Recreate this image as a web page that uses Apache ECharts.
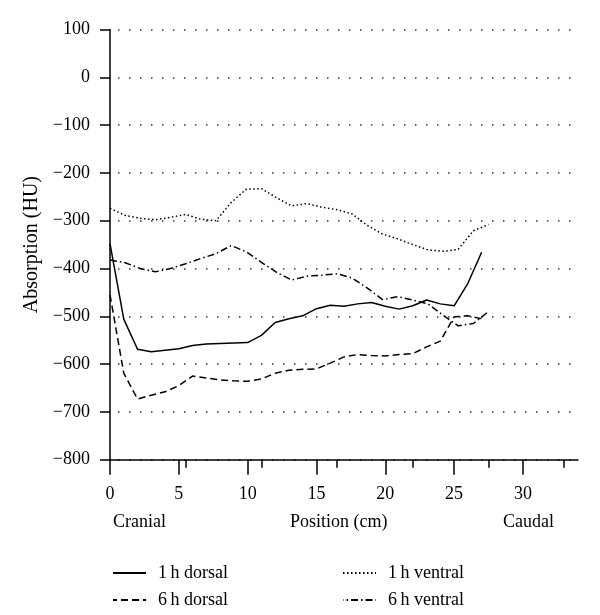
<!DOCTYPE html>
<html><head><meta charset="utf-8">
<script src="https://cdn.jsdelivr.net/npm/echarts@6/dist/echarts.min.js"></script>
<style>html,body{margin:0;padding:0;background:#fff}#c{width:600px;height:615px}</style>
</head><body><div id="c"></div>
<script>
const dorsalPos = [0,1,2,3,4,5,6,7,8,9,10,11,12,13,14,15,16,17,18,19,20,21,22,23,24,25,26,27];
const ventralPos = [0,1.1,2.2,3.3,4.4,5.5,6.6,7.7,8.8,9.9,11,12.1,13.2,14.3,15.4,16.5,17.6,18.7,19.8,20.9,22,23.1,24.2,25.3,26.4,27.5];
const dorsal1h = [-348,-506,-569,-574,-571,-568,-561,-558,-557,-556,-555,-540,-513,-505,-499,-484,-477,-479,-474,-471,-479,-485,-478,-466,-474,-478,-431,-366];
const dorsal6h = [-455,-619,-673,-665,-658,-645,-625,-629,-633,-635,-636,-631,-619,-613,-611,-610,-598,-585,-580,-582,-583,-580,-578,-564,-552,-501,-499,-505];
const ventral1h = [-274,-289,-295,-298,-293,-287,-297,-300,-262,-234,-233,-252,-269,-264,-272,-277,-286,-310,-328,-338,-350,-361,-364,-360,-321,-308];
const ventral6h = [-382,-388,-400,-407,-400,-390,-379,-369,-352,-365,-387,-408,-424,-416,-414,-411,-420,-441,-465,-459,-466,-474,-498,-520,-515,-490];
const xMajorTicks = [0,5,10,15,20,25,30];
const xMinorTicks = [0,5.5,11,16.5,22,27.5,33];
const seriesNames = ['1\u2009h dorsal','6\u2009h dorsal','1\u2009h ventral','6\u2009h ventral'];
const bottomLabels = ['Cranial','Position (cm)','Caudal'];

const FONT = "'Liberation Serif', 'DejaVu Serif', serif";
const zip = (xs, ys) => xs.map((x, i) => [x, ys[i]]);
const mk = (name, data, type, w) => ({
  name, type: 'line', data, symbol: 'none', showSymbol: false, animation: false,
  lineStyle: { color: '#000', width: w || 1.5, type: type },
  itemStyle: { color: '#000' }
});

const chart = echarts.init(document.getElementById('c'));
const legendText = { fontFamily: FONT, fontSize: 18, color: '#000', padding: [0,0,0,7] };
const leg = (name, left, top) => ({
  left, top, padding: 0, orient: 'horizontal', itemWidth: 33, itemHeight: 18,
  data: [name], textStyle: legendText, selectedMode: false,
  itemStyle: { color: 'rgba(0,0,0,0)', borderWidth: 0, opacity: 0 }
});
chart.setOption({
  backgroundColor: '#fff',
  animation: false,
  grid: { left: 110, right: 22, top: 29.5, bottom: 155.3, containLabel: false },
  xAxis: [{
    type: 'value', min: 0, max: 34, position: 'bottom',
    axisLine: { show: true, onZero: false, lineStyle: { color: '#000', width: 1.5 } },
    axisTick: { show: true, customValues: xMajorTicks, length: 15, lineStyle: { color: '#000', width: 1.5 } },
    axisLabel: { customValues: xMajorTicks, margin: 26, fontFamily: FONT, fontSize: 18, color: '#000' },
    splitLine: { show: false }
  }, {
    type: 'value', min: 0, max: 34, position: 'bottom', offset: 0,
    axisLine: { show: false, onZero: false },
    axisTick: { show: true, customValues: xMinorTicks, length: 8, lineStyle: { color: '#000', width: 1.5 } },
    axisLabel: { show: false },
    splitLine: { show: false }
  }],
  yAxis: {
    type: 'value', min: -800, max: 100, interval: 100,
    name: 'Absorption (HU)', nameLocation: 'middle', nameGap: 67, nameRotate: 90,
    nameTextStyle: { fontFamily: FONT, fontSize: 20, color: '#000' },
    axisLine: { show: true, onZero: false, lineStyle: { color: '#000', width: 1.5 } },
    axisTick: { show: true, length: 10, lineStyle: { color: '#000', width: 1.5 } },
    axisLabel: { margin: 20, fontFamily: FONT, fontSize: 18, color: '#000',
      formatter: v => String(v).replace('-', '\u2212') },
    splitLine: { show: true, lineStyle: { type: [1.5, 9.5], color: '#333', width: 1.5, dashOffset: -8 } }
  },
  legend: [
    leg(seriesNames[0], 112, 564),
    leg(seriesNames[1], 112, 591),
    leg(seriesNames[2], 342, 564),
    leg(seriesNames[3], 342, 591)
  ],
  graphic: [
    { type: 'text', left: 113, top: 513, style: { text: bottomLabels[0], font: '18px ' + FONT, fill: '#000' } },
    { type: 'text', left: 290, top: 513, style: { text: bottomLabels[1], font: '18px ' + FONT, fill: '#000' } },
    { type: 'text', left: 503, top: 513, style: { text: bottomLabels[2], font: '18px ' + FONT, fill: '#000' } }
  ],
  series: [
    mk(seriesNames[0], zip(dorsalPos, dorsal1h), 'solid'),
    mk(seriesNames[1], zip(dorsalPos, dorsal6h), [7, 4]),
    mk(seriesNames[2], zip(ventralPos, ventral1h), [1.5, 2.5], 1.5),
    mk(seriesNames[3], zip(ventralPos, ventral6h), [7, 3, 1.5, 3])
  ]
});
</script>
</body></html>
